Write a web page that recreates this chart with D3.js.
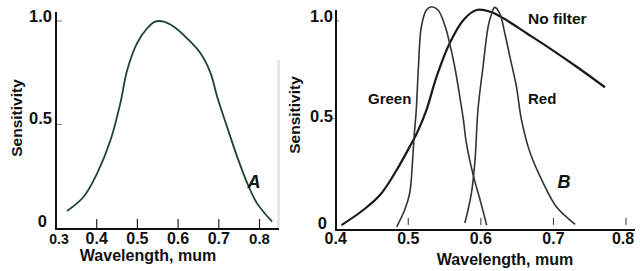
<!DOCTYPE html>
<html><head><meta charset="utf-8">
<script src="https://cdn.jsdelivr.net/npm/d3@7"></script>
<style>
html,body{margin:0;padding:0;background:#fff;}
svg{display:block;font-family:"Liberation Sans",Arial,sans-serif;font-weight:bold;}
</style></head>
<body>
<svg id="c" width="640" height="271"></svg>
<script>
// Panel A
const curveAx = [0.327,0.368,0.401,0.434,0.458,0.475,0.499,0.524,0.544,0.565,0.589,0.622,0.655,0.680,0.696,0.720,0.745,0.770,0.794,0.831];
const curveAy = [0.082,0.151,0.264,0.425,0.602,0.763,0.892,0.965,0.997,0.997,0.973,0.916,0.844,0.747,0.634,0.490,0.345,0.216,0.119,0.031];
// Panel B
const noFilterX = [0.408,0.438,0.461,0.484,0.502,0.512,0.525,0.539,0.557,0.576,0.594,0.613,0.631,0.663,0.695,0.732,0.771];
const noFilterY = [0.014,0.087,0.159,0.280,0.393,0.459,0.570,0.731,0.892,1.005,1.053,1.045,1.013,0.941,0.868,0.779,0.680];
const greenX = [0.484,0.495,0.502,0.506,0.508,0.511,0.514,0.518,0.525,0.532,0.541,0.551,0.557,0.564,0.571,0.576,0.580,0.590,0.599,0.608];
const greenY = [0.006,0.087,0.169,0.329,0.441,0.570,0.779,0.972,1.053,1.069,1.053,0.972,0.892,0.779,0.634,0.522,0.411,0.248,0.135,0.014];
const redX = [0.578,0.587,0.592,0.596,0.603,0.610,0.615,0.619,0.626,0.633,0.640,0.649,0.656,0.668,0.686,0.704,0.730];
const redY = [0.024,0.169,0.329,0.570,0.779,0.972,1.037,1.066,1.037,0.941,0.828,0.683,0.522,0.362,0.217,0.103,0.018];

const xTicksA = [0.3,0.4,0.5,0.6,0.7,0.8];
const xTicksB = [0.4,0.5,0.6,0.7,0.8];
const yTicks = [0,0.5,1.0];
const yTickLabels = ["0","0.5","1.0"];
const xLabel = "Wavelength, mum";
const yLabel = "Sensitivity";

const svg = d3.select("#c");
const zip = (xs,ys)=>xs.map((x,i)=>[x,ys[i]]);

// faint artefact of the scan
svg.append("rect").attr("x",277).attr("y",60).attr("width",3).attr("height",168).attr("fill","#dde8f4");

// ---------- Panel A ----------
const xA = d3.scaleLinear().domain([0.3,0.8]).range([56,259.5]);
const yA = d3.scaleLinear().domain([0,1]).range([228,21]);
const gA = svg.append("g");
gA.append("line").attr("x1",56).attr("x2",56).attr("y1",12).attr("y2",229).attr("stroke","#111").attr("stroke-width",2);
gA.append("line").attr("x1",55).attr("x2",279).attr("y1",229).attr("y2",229).attr("stroke","#111").attr("stroke-width",2);
xTicksA.slice(1).forEach(t=>{
  gA.append("line").attr("x1",xA(t)).attr("x2",xA(t)).attr("y1",219).attr("y2",228).attr("stroke","#222").attr("stroke-width",1.2);
});
[0.5,1.0].forEach(t=>{
  gA.append("line").attr("x1",57).attr("x2",62).attr("y1",yA(t)).attr("y2",yA(t)).attr("stroke","#777").attr("stroke-width",1);
});
xTicksA.forEach((t,i)=>{
  const fs = (i===0)?14:(i===xTicksA.length-1?15:16);
  gA.append("text").attr("x",xA(t)+(i===0?3:0)).attr("y",244).attr("text-anchor","middle")
    .attr("font-size",fs).attr("fill","#111").text(d3.format(".1f")(t));
});
yTicks.forEach((t,i)=>{
  gA.append("text").attr("x",i===0?47:52).attr("y",yA(t)+(i===0?-1:(i===1?-1:1))).attr("text-anchor","end")
    .attr("font-size",16.5).attr("fill","#111").text(yTickLabels[i]);
});
gA.append("text").attr("x",148).attr("y",261).attr("text-anchor","middle").attr("font-size",16).attr("fill","#111").text(xLabel);
gA.append("text").attr("transform","translate(22,118) rotate(-90)").attr("text-anchor","middle").attr("font-size",15.5).attr("fill","#111").text(yLabel);
const lineA = d3.line().x(d=>xA(d[0])).y(d=>yA(d[1])).curve(d3.curveCatmullRom);
gA.append("path").attr("d",lineA(zip(curveAx,curveAy))).attr("fill","none").attr("stroke","#1e4238").attr("stroke-width",1.8);
gA.append("text").attr("x",254).attr("y",188).attr("text-anchor","middle").attr("font-size",18).attr("font-style","italic").attr("fill","#111").text("A");

// ---------- Panel B ----------
const xB = d3.scaleLinear().domain([0.4,0.8]).range([335.7,626]);
const yB = d3.scaleLinear().domain([0,1]).range([228,21]);
const gB = svg.append("g");
gB.append("line").attr("x1",336).attr("x2",336).attr("y1",10).attr("y2",230).attr("stroke","#111").attr("stroke-width",2);
gB.append("line").attr("x1",335).attr("x2",635).attr("y1",230).attr("y2",230).attr("stroke","#111").attr("stroke-width",2);
xTicksB.slice(1).forEach(t=>{
  gB.append("line").attr("x1",xB(t)).attr("x2",xB(t)).attr("y1",218).attr("y2",225).attr("stroke","#333").attr("stroke-width",1);
});
[0.5,1.0].forEach(t=>{
  gB.append("line").attr("x1",t===1?337:333).attr("x2",t===1?339:335).attr("y1",yB(t)-(t===0.5?6:0)).attr("y2",yB(t)-(t===0.5?6:0)).attr("stroke","#777").attr("stroke-width",1);
});
xTicksB.forEach((t,i)=>{
  gB.append("text").attr("x",xB(t)-(i===xTicksB.length-1?3:0)).attr("y",244).attr("text-anchor","middle")
    .attr("font-size",16).attr("fill","#111").text(d3.format(".1f")(t));
});
yTicks.forEach((t,i)=>{
  gB.append("text").attr("x",i===0?327:333).attr("y",i===0?229:(i===1?122:22)).attr("text-anchor","end")
    .attr("font-size",16.5).attr("fill","#111").text(yTickLabels[i]);
});
gB.append("text").attr("x",505).attr("y",265).attr("text-anchor","middle").attr("font-size",16).attr("fill","#111").text(xLabel);
gB.append("text").attr("transform","translate(300,115) rotate(-90)").attr("text-anchor","middle").attr("font-size",15.5).attr("fill","#111").text(yLabel);
const lineB = d3.line().x(d=>xB(d[0])).y(d=>yB(d[1])).curve(d3.curveCatmullRom);
gB.append("path").attr("d",lineB(zip(noFilterX,noFilterY))).attr("fill","none").attr("stroke","#1a1a1a").attr("stroke-width",2.2);
gB.append("path").attr("d",lineB(zip(greenX,greenY))).attr("fill","none").attr("stroke","#333").attr("stroke-width",1.6);
gB.append("path").attr("d",lineB(zip(redX,redY))).attr("fill","none").attr("stroke","#333").attr("stroke-width",1.6);
gB.append("text").attr("x",368).attr("y",104).attr("font-size",15).attr("fill","#111").text("Green");
gB.append("text").attr("x",528).attr("y",104).attr("font-size",15).attr("fill","#111").text("Red");
gB.append("text").attr("x",528).attr("y",24).attr("font-size",15.5).attr("fill","#111").text("No filter");
gB.append("text").attr("x",564).attr("y",188).attr("text-anchor","middle").attr("font-size",18).attr("font-style","italic").attr("fill","#111").text("B");
</script>
</body></html>
